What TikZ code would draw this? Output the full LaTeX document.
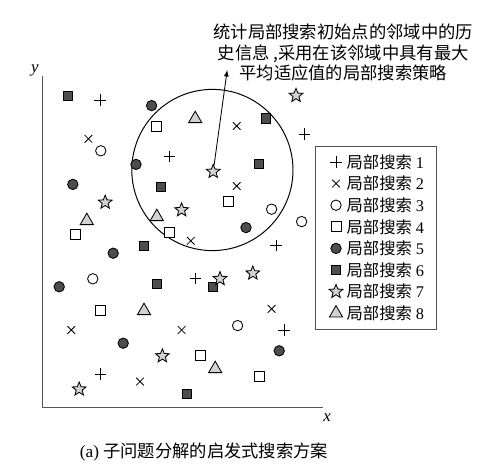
\documentclass[tikz,border=0pt]{standalone}
\usepackage{fontspec}
\setmainfont{Liberation Serif}
\newfontfamily\cjk{Noto Sans CJK SC}
\usetikzlibrary{shapes.geometric,shapes.misc}
\definecolor{darkfill}{HTML}{4D4D4D}
\definecolor{lightfill}{HTML}{D2D2D2}
\definecolor{axisgray}{HTML}{555555}

\begin{document}
\begin{tikzpicture}
	\tikzset{every node/.style={inner sep=0pt, line width=0.6pt},
		ls1/.style={draw, cross out, rotate=45, minimum size=0.18cm},
		ls2/.style={draw, cross out, minimum size=0.17cm},
		ls3/.style={draw, circle, fill=white, minimum size=0.26cm},
		ls4/.style={draw, rectangle, fill=white, minimum size=0.25cm},
		ls5/.style={draw, circle, fill=darkfill, minimum size=0.26cm},
		ls6/.style={draw, rectangle, fill=darkfill, minimum size=0.23cm},
		ls7/.style={draw, star, star points=5, star point ratio=2.3, fill=lightfill, minimum size=0.36cm},
		ls8/.style={draw, regular polygon, regular polygon sides=3, fill=lightfill, minimum size=0.38cm},
		label/.style={inner sep=1pt, font=\fontsize{11.6}{13}\selectfont}
	}
	\useasboundingbox (0,0) rectangle (12.05,11.7);

	% axes
	\coordinate (origin) at (1.05,1.525);
	\coordinate (ytop) at (1.05,9.8);
	\coordinate (xend) at (8.075,1.525);
	\draw[axisgray, line width=0.7pt] (ytop) -- (origin) -- (xend);
	\node (ylab) at (0.87,9.95) [font=\itshape\fontsize{12}{14}\selectfont] {y};
	\node (xlab) at (8.18,1.27) [font=\itshape\fontsize{12}{14}\selectfont] {x};

	% neighbourhood
	\node (nbhd) at (5.31,7.45) [draw, circle, line width=0.7pt, minimum size=4.03cm] {};

	% local search 1
	\node[ls1] (s1n1) at (2.50,9.20) {};
	\node[ls1] (s1n2) at (7.61,8.35) {};
	\node[ls1] (s1n3) at (4.23,7.78) {};
	\node[ls1] (s1n4) at (6.90,5.56) {};
	\node[ls1] (s1n5) at (4.88,4.73) {};
	\node[ls1] (s1n6) at (7.10,3.45) {};
	\node[ls1] (s1n7) at (2.52,2.35) {};
	% local search 2
	\node[ls2] (s2n1) at (5.92,8.55) {};
	\node[ls2] (s2n2) at (2.21,8.23) {};
	\node[ls2] (s2n3) at (5.92,7.05) {};
	\node[ls2] (s2n4) at (4.77,5.68) {};
	\node[ls2] (s2n5) at (6.79,3.98) {};
	\node[ls2] (s2n6) at (1.78,3.45) {};
	\node[ls2] (s2n7) at (4.54,3.45) {};
	\node[ls2] (s2n8) at (3.50,2.16) {};
	% local search 3
	\node[ls3] (s3n1) at (2.52,7.93) {};
	\node[ls3] (s3n2) at (6.79,6.47) {};
	\node[ls3] (s3n3) at (7.54,6.16) {};
	\node[ls3] (s3n4) at (2.32,4.73) {};
	\node[ls3] (s3n5) at (5.94,3.56) {};
	% local search 4
	\node[ls4] (s4n1) at (3.92,8.55) {};
	\node[ls4] (s4n2) at (5.71,6.66) {};
	\node[ls4] (s4n3) at (1.88,5.83) {};
	\node[ls4] (s4n4) at (4.23,5.89) {};
	\node[ls4] (s4n5) at (2.52,3.95) {};
	\node[ls4] (s4n6) at (5.00,2.81) {};
	\node[ls4] (s4n7) at (6.48,2.28) {};
	% local search 5
	\node[ls5] (s5n1) at (3.79,9.06) {};
	\node[ls5] (s5n2) at (3.40,7.59) {};
	\node[ls5] (s5n3) at (1.82,7.09) {};
	\node[ls5] (s5n4) at (6.15,6.01) {};
	\node[ls5] (s5n5) at (2.83,5.37) {};
	\node[ls5] (s5n6) at (1.48,4.53) {};
	\node[ls5] (s5n7) at (3.08,3.12) {};
	\node[ls5] (s5n8) at (6.98,2.93) {};
	% local search 6
	\node[ls6] (s6n1) at (1.69,9.31) {};
	\node[ls6] (s6n2) at (6.65,8.74) {};
	\node[ls6] (s6n3) at (6.47,7.60) {};
	\node[ls6] (s6n4) at (4.02,7.03) {};
	\node[ls6] (s6n5) at (3.60,5.56) {};
	\node[ls6] (s6n6) at (3.92,4.60) {};
	\node[ls6] (s6n7) at (5.32,4.53) {};
	\node[ls6] (s6n8) at (4.68,1.85) {};
	% local search 7
	\node[ls7] (s7n1) at (7.40,9.31) {};
	\node[ls7] (s7n2) at (5.33,7.41) {};
	\node[ls7] (s7n3) at (2.63,6.64) {};
	\node[ls7] (s7n4) at (4.54,6.45) {};
	\node[ls7] (s7n5) at (5.50,4.73) {};
	\node[ls7] (s7n6) at (6.32,4.87) {};
	\node[ls7] (s7n7) at (4.06,2.80) {};
	\node[ls7] (s7n8) at (1.98,1.97) {};
	% local search 8
	\node[ls8] (s8n1) at (4.88,8.73) {};
	\node[ls8] (s8n2) at (2.17,6.18) {};
	\node[ls8] (s8n3) at (3.92,6.28) {};
	\node[ls8] (s8n4) at (3.60,3.93) {};
	\node[ls8] (s8n5) at (5.38,2.48) {};

	% note
	\node (note) at (8.58,10.38) [align=center, font=\cjk\fontsize{12.3}{14.6}\selectfont] {统计局部搜索初始点的邻域中的历\\史信息 ,采用在该邻域中具有最大\\平均适应值的局部搜索策略};
	\coordinate (tip) at (5.68,9.95);
	\draw[-latex, line width=0.6pt] (s7n2) -- (tip);

	% legend
	\node (legend) at (9.4,5.75) [draw=axisgray, line width=0.7pt, minimum width=3.04cm, minimum height=4.56cm] {};
	\node[ls1] (k1) at (8.4,7.65) {};
	\node[ls2] (k2) at (8.4,7.11) {};
	\node[ls3] (k3) at (8.4,6.57) {};
	\node[ls4] (k4) at (8.4,6.03) {};
	\node[ls5] (k5) at (8.4,5.49) {};
	\node[ls6] (k6) at (8.4,4.95) {};
	\node[ls7] (k7) at (8.4,4.41) {};
	\node[ls8] (k8) at (8.4,3.87) {};
	\node[label, anchor=west] (t1) at (8.62,7.65) {{\cjk 局部搜索} 1};
	\node[label, anchor=west] (t2) at (8.62,7.11) {{\cjk 局部搜索} 2};
	\node[label, anchor=west] (t3) at (8.62,6.57) {{\cjk 局部搜索} 3};
	\node[label, anchor=west] (t4) at (8.62,6.03) {{\cjk 局部搜索} 4};
	\node[label, anchor=west] (t5) at (8.62,5.49) {{\cjk 局部搜索} 5};
	\node[label, anchor=west] (t6) at (8.62,4.95) {{\cjk 局部搜索} 6};
	\node[label, anchor=west] (t7) at (8.62,4.41) {{\cjk 局部搜索} 7};
	\node[label, anchor=west] (t8) at (8.62,3.87) {{\cjk 局部搜索} 8};

	% caption
	\node (caption) at (5.1,0.41) [font=\fontsize{12.3}{14.6}\selectfont] {(a) {\cjk 子问题分解的启发式搜索方案}};
\end{tikzpicture}
\end{document}
